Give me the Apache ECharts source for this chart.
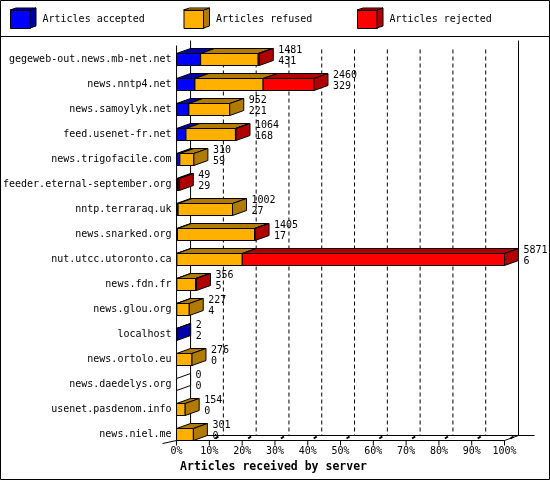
<!DOCTYPE html>
<html>
<head>
<meta charset="utf-8">
<script src="https://cdn.jsdelivr.net/npm/echarts@6/dist/echarts.min.js"></script>
<style>html,body{margin:0;padding:0;background:#fff;}#c{width:550px;height:480px;}</style>
</head>
<body>
<div id="c"></div>
<script>
// ---- data ----
const categories = ['gegeweb-out.news.mb-net.net','news.nntp4.net','news.samoylyk.net','feed.usenet-fr.net','news.trigofacile.com','feeder.eternal-september.org','nntp.terraraq.uk','news.snarked.org','nut.utcc.utoronto.ca','news.fdn.fr','news.glou.org','localhost','news.ortolo.eu','news.daedelys.org','usenet.pasdenom.info','news.niel.me'];
const offered  = [1481, 2460, 952, 1064, 310, 49, 1002, 1405, 5871, 356, 227, 2, 276, 0, 154, 301];
const accepted = [431, 329, 221, 168, 59, 29, 27, 17, 6, 5, 4, 2, 0, 0, 0, 0];
const refused  = [1030, 1220, 731, 886, 251, 0, 975, 1380, 1170, 336, 223, 0, 276, 0, 154, 301];
const rejected = [20, 911, 0, 10, 0, 20, 0, 8, 4695, 15, 0, 0, 0, 0, 0, 0];
const seriesNames = ['Articles accepted', 'Articles refused', 'Articles rejected'];
const xTicks = [0, 10, 20, 30, 40, 50, 60, 70, 80, 90, 100];

// ---- style ----
const FRONT = ['#0000ff', '#ffb000', '#ff0000'];
const DARK  = ['#0000a8', '#b07b00', '#b00000'];
const MONO = '"DejaVu Sans Mono", monospace';
const H = 12, DX = 14, DY = 5;

const maxTotal = Math.max.apply(null, offered);
const pct = v => v / maxTotal * 100;
const segs = [accepted, refused, rejected];

function segData(k) {
  return categories.map((c, i) => {
    let s = 0;
    for (let j = 0; j < k; j++) s += segs[j][i];
    return [i, pct(s), pct(s + segs[k][i])];
  });
}
function segRender(k) {
  return function (params, api) {
    const c = api.value(0), s = api.value(1), e = api.value(2);
    if (!(e - s > 0)) return null;
    const p0 = api.coord([s, c]), p1 = api.coord([e, c]);
    const y = p0[1];
    return { type: 'group', children: [
      { type: 'rect', shape: { x: p0[0], y: y - H / 2, width: p1[0] - p0[0], height: H },
        style: { fill: FRONT[k], stroke: '#000', lineWidth: 1 } },
      { type: 'polygon', shape: { points: [[p0[0], y - H / 2], [p0[0] + DX, y - H / 2 - DY], [p1[0] + DX, y - H / 2 - DY], [p1[0], y - H / 2]] },
        style: { fill: DARK[k], stroke: '#000', lineWidth: 1 } }
    ]};
  };
}
const sideData = categories.map((c, i) => {
  let last = -1;
  for (let k = 0; k < 3; k++) if (segs[k][i] > 0) last = k;
  const tot = accepted[i] + refused[i] + rejected[i];
  return [i, pct(tot), last, offered[i], accepted[i]];
});
function sideRender(params, api) {
  const c = api.value(0), e = api.value(1), last = api.value(2);
  const p = api.coord([e, c]);
  const x = p[0], y = p[1];
  return { type: 'group', children: [
    { type: 'polygon', shape: { points: [[x, y - H / 2], [x + DX, y - H / 2 - DY], [x + DX, y + H / 2 - DY], [x, y + H / 2]] },
      style: { fill: last >= 0 ? DARK[last] : '#fff', stroke: '#000', lineWidth: 1 } },
    { type: 'text', x: x + DX + 5, y: y - 3.5,
      style: { text: api.value(3) + '\n' + api.value(4), fill: '#000', fontSize: 10, fontFamily: MONO, lineHeight: 11, verticalAlign: 'middle', align: 'left' } }
  ]};
}
function frameRender(params, api) {
  const n = categories.length;
  const xl = api.coord([0, 0])[0], xr = api.coord([100, 0])[0];
  const yTop = api.coord([0, 0])[1] - 14;
  const yBot = api.coord([0, n - 1])[1] + H / 2;
  const ln = (x1, y1, x2, y2, extra) => ({ type: 'line', shape: { x1, y1, x2, y2 }, style: Object.assign({ stroke: '#000', lineWidth: 1 }, extra || {}) });
  const ch = [];
  for (let t = 1; t < xTicks.length - 1; t++) {
    const gx = api.coord([xTicks[t], 0])[0] + DX;
    ch.push(ln(gx, yTop + 4, gx, yBot - DY, { lineDash: [4, 3] }));
  }
  ch.push(ln(xl + DX, yTop - 5, xl + DX, yBot - DY));
  ch.push(ln(xr + DX, yTop - 5, xr + DX, yBot - DY));
  ch.push(ln(xl + DX, yBot - DY, xr + DX + 16, yBot - DY));
  ch.push(ln(xl, yTop, xl, yBot));
  ch.push(ln(xl, yBot, xr, yBot));
  ch.push(ln(xr, yBot, xr + DX, yBot - DY));
  ch.push(ln(xl - 14, yBot + 3, xl, yBot));
  for (let t = 0; t < xTicks.length; t++) {
    const tx = api.coord([xTicks[t], 0])[0];
    ch.push(ln(tx, yBot, tx, yBot + 5));
    if (t > 0) ch.push(ln(tx + 6, yBot - 2, tx + 9, yBot - 4, { lineWidth: 2 }));
  }
  return { type: 'group', children: ch };
}

// legend geometry
const LEG_LEFT = [10, 183.5, 357], LEG_TOP = 10, LW = 20, LH = 18;
const legendGraphics = [];
LEG_LEFT.forEach((lx, k) => {
  legendGraphics.push({ type: 'polygon', shape: { points: [[lx + LW, LEG_TOP], [lx + LW + 6, LEG_TOP - 2], [lx + LW + 6, LEG_TOP + LH - 2], [lx + LW, LEG_TOP + LH]] },
    style: { fill: DARK[k], stroke: '#000', lineWidth: 1 }, z: 100 });
  legendGraphics.push({ type: 'polygon', shape: { points: [[lx, LEG_TOP], [lx + 6, LEG_TOP - 2], [lx + LW + 6, LEG_TOP - 2], [lx + LW, LEG_TOP]] },
    style: { fill: FRONT[k], stroke: '#000', lineWidth: 1 }, z: 100 });
});
legendGraphics.push({ type: 'line', shape: { x1: 0, y1: 36.5, x2: 550, y2: 36.5 }, style: { stroke: '#000', lineWidth: 1 } });
legendGraphics.push({ type: 'rect', shape: { x: 0.5, y: 0.5, width: 549, height: 479 }, style: { fill: 'none', stroke: '#000', lineWidth: 1 } });

const chart = echarts.init(document.getElementById('c'), null, { renderer: 'canvas' });
chart.setOption({
  backgroundColor: '#fff',
  animation: false,
  textStyle: { fontFamily: MONO },
  legend: seriesNames.map((nm, k) => ({
    data: [nm], left: LEG_LEFT[k], top: LEG_TOP, padding: 0, icon: 'rect', itemWidth: LW, itemHeight: LH,
    itemStyle: { borderColor: '#000', borderWidth: 1 },
    textStyle: { fontSize: 10, fontFamily: MONO, color: '#000', padding: [0, 0, 0, 7] },
    selectedMode: false
  })),
  graphic: legendGraphics,
  grid: { left: 176.5, width: 328, top: 47, height: 400, containLabel: false },
  xAxis: {
    type: 'value', min: 0, max: 100, interval: 10, offset: -6.5,
    axisLine: { show: false }, axisTick: { show: false }, splitLine: { show: false },
    axisLabel: { formatter: '{value}%', fontSize: 10, fontFamily: MONO, color: '#000', margin: 6 },
    name: 'Articles received by server', nameLocation: 'middle', nameGap: 20,
    nameTextStyle: { fontSize: 11.5, fontWeight: 'bold', fontFamily: MONO, color: '#000', padding: [0, 134, 0, 0] }
  },
  yAxis: {
    type: 'category', data: categories, inverse: true,
    axisLine: { show: false }, axisTick: { show: false },
    axisLabel: { fontSize: 10, fontFamily: MONO, color: '#000', margin: 5 }
  },
  series: [
    { type: 'custom', name: 'frame', z: 1, silent: true, data: [[0, 0]], encode: { x: 0, y: 1 }, renderItem: frameRender }
  ].concat(seriesNames.map((nm, k) => ({
    type: 'custom', name: nm, z: 2, data: segData(k), encode: { x: [1, 2], y: 0 },
    itemStyle: { color: FRONT[k], borderColor: '#000', borderWidth: 1 }, renderItem: segRender(k)
  }))).concat([
    { type: 'custom', name: 'sides', z: 3, data: sideData, encode: { x: 1, y: 0 }, renderItem: sideRender }
  ])
});
</script>
</body>
</html>
